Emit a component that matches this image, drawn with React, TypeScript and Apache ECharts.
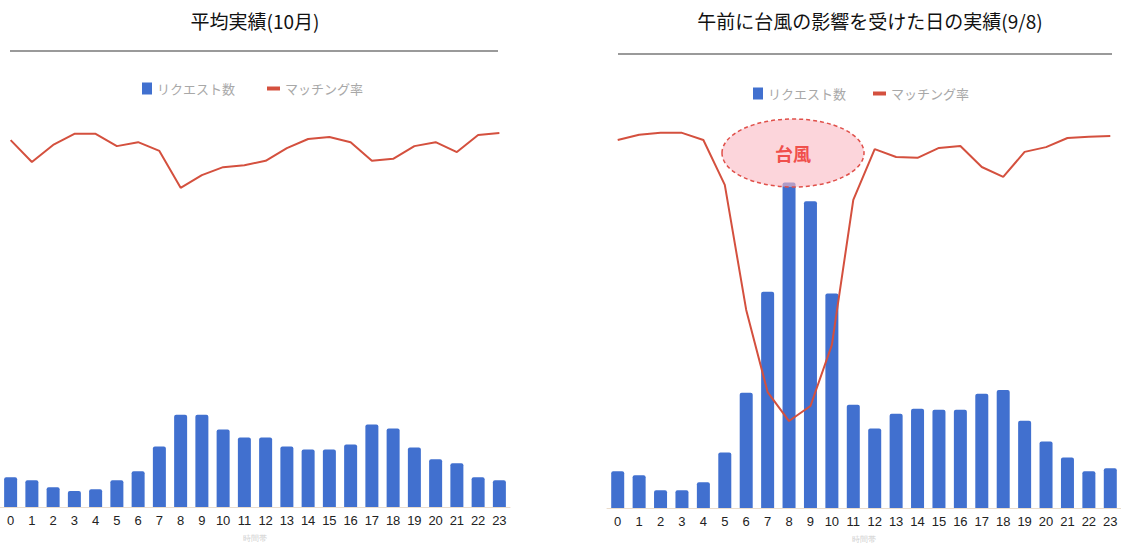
import React, { useEffect, useRef } from "react";
import * as echarts from "echarts";

const hours = ["0","1","2","3","4","5","6","7","8","9","10","11","12","13","14","15","16","17","18","19","20","21","22","23"];

const titleLeft = "平均実績(10月)";
const titleRight = "午前に台風の影響を受けた日の実績(9/8)";
const barName = "リクエスト数";
const lineName = "マッチング率";
const axisName = "時間帯";
const typhoonLabel = "台風";

// Average (October)
const requestsAvg = [30, 27, 20, 16, 18, 27, 36, 61, 93, 93, 78, 70, 70, 61, 58, 58, 63, 83, 79, 60, 48, 44, 30, 27];
const matchAvg = [92.4, 86.9, 91.2, 94.0, 94.0, 90.9, 91.9, 89.7, 80.4, 83.6, 85.6, 86.1, 87.2, 90.4, 92.7, 93.2, 91.9, 87.2, 87.7, 90.9, 91.9, 89.4, 93.7, 94.2];

// Typhoon day (9/8)
const requestsTyphoon = [37, 33, 18, 18, 26, 56, 116, 218, 328, 309, 216, 104, 80, 95, 100, 99, 99, 115, 119, 88, 67, 51, 37, 40];
const matchTyphoon = [92.7, 94.0, 94.5, 94.5, 92.7, 81.4, 49.9, 29.2, 21.9, 25.7, 41.1, 77.6, 90.4, 88.4, 88.2, 90.7, 91.2, 85.9, 83.4, 89.7, 90.9, 93.2, 93.5, 93.7];

const BAR_COLOR = "#4170cf";
const LINE_COLOR = "#d4503e";

export default function App() {
  const ref = useRef<HTMLDivElement>(null);
  useEffect(() => {
    if (!ref.current) return;
    const chart = echarts.init(ref.current, undefined, { renderer: "svg" });
    const xAxisBase = (gridIndex: number) => ({
      type: "category",
      gridIndex,
      data: hours,
      axisLine: { lineStyle: { color: "#eadccc", width: 1 } },
      axisTick: { show: false },
      axisLabel: { color: "#222", fontSize: 13, margin: 7, fontFamily: "Liberation Sans, Arial, sans-serif", interval: 0 },
      name: axisName,
      nameLocation: "middle",
      nameGap: 27,
      nameTextStyle: { color: "#d0d0d0", fontSize: 8 },
    });
    const legendText = { color: "#a8a8a8", fontSize: 13, fontFamily: "Noto Sans CJK JP, sans-serif" };
    const option: any = {
      animation: false,
      title: [
        { text: titleLeft, left: 250, top: 6, textAlign: "center", textStyle: { fontSize: 19, fontWeight: "normal", color: "#111", fontFamily: "Noto Sans CJK JP, sans-serif" } },
        { text: titleRight, left: 865, top: 6, textAlign: "center", textStyle: { fontSize: 19, fontWeight: "normal", color: "#111", fontFamily: "Noto Sans CJK JP, sans-serif" } },
      ],
      legend: [
        { data: [{ name: barName, icon: "rect" }], left: 137, top: 77, itemWidth: 10, itemHeight: 12, textStyle: legendText, selectedMode: false },
        { data: [{ name: lineName, icon: "rect" }], left: 262, top: 77, itemWidth: 13, itemHeight: 4, textStyle: legendText, selectedMode: false },
        { data: [{ name: barName, icon: "rect" }], left: 748, top: 82, itemWidth: 10, itemHeight: 12, textStyle: legendText, selectedMode: false },
        { data: [{ name: lineName, icon: "rect" }], left: 868, top: 82, itemWidth: 13, itemHeight: 4, textStyle: legendText, selectedMode: false },
      ],
      grid: [
        { left: -4, top: 110, width: 514, height: 397 },
        { left: 607, top: 111, width: 514, height: 397 },
      ],
      xAxis: [xAxisBase(0), xAxisBase(1)],
      yAxis: [
        { type: "value", gridIndex: 0, min: 0, max: 400, show: false },
        { type: "value", gridIndex: 0, min: 0, max: 100, show: false },
        { type: "value", gridIndex: 1, min: 0, max: 400, show: false },
        { type: "value", gridIndex: 1, min: 0, max: 100, show: false },
      ],
      series: [
        { name: barName, type: "bar", xAxisIndex: 0, yAxisIndex: 0, data: requestsAvg, barWidth: 13, itemStyle: { color: BAR_COLOR, borderRadius: [2, 2, 0, 0] } },
        { name: lineName, type: "line", xAxisIndex: 0, yAxisIndex: 1, data: matchAvg, showSymbol: false, symbol: "none", lineStyle: { color: LINE_COLOR, width: 2 }, itemStyle: { color: LINE_COLOR } },
        { name: barName, type: "bar", xAxisIndex: 1, yAxisIndex: 2, data: requestsTyphoon, barWidth: 13, itemStyle: { color: BAR_COLOR, borderRadius: [2, 2, 0, 0] } },
        { name: lineName, type: "line", xAxisIndex: 1, yAxisIndex: 3, data: matchTyphoon, showSymbol: false, symbol: "none", lineStyle: { color: LINE_COLOR, width: 2 }, itemStyle: { color: LINE_COLOR } },
      ],
      graphic: [
        { type: "line", shape: { x1: 10, y1: 51, x2: 498, y2: 51 }, style: { stroke: "#9a9a9a", lineWidth: 2 } },
        { type: "line", shape: { x1: 618, y1: 54, x2: 1112, y2: 54 }, style: { stroke: "#9a9a9a", lineWidth: 2 } },
        { type: "ellipse", z: 100, shape: { cx: 793, cy: 153, rx: 71, ry: 34 }, style: { fill: "rgba(250,185,195,0.6)", stroke: "#e0504a", lineWidth: 1.5, lineDash: [4, 3] } },
        { type: "text", z: 101, x: 793, y: 153, style: { text: typhoonLabel, fill: "#f0504c", fontSize: 18, fontWeight: "bold", align: "center", verticalAlign: "middle", fontFamily: "Noto Sans CJK JP, sans-serif" } },
      ],
    };
    chart.setOption(option);
    return () => chart.dispose();
  }, []);
  return <div ref={ref} style={{ position: "absolute", left: 0, top: 0, width: 1121, height: 548, background: "#fff" }} />;
}
